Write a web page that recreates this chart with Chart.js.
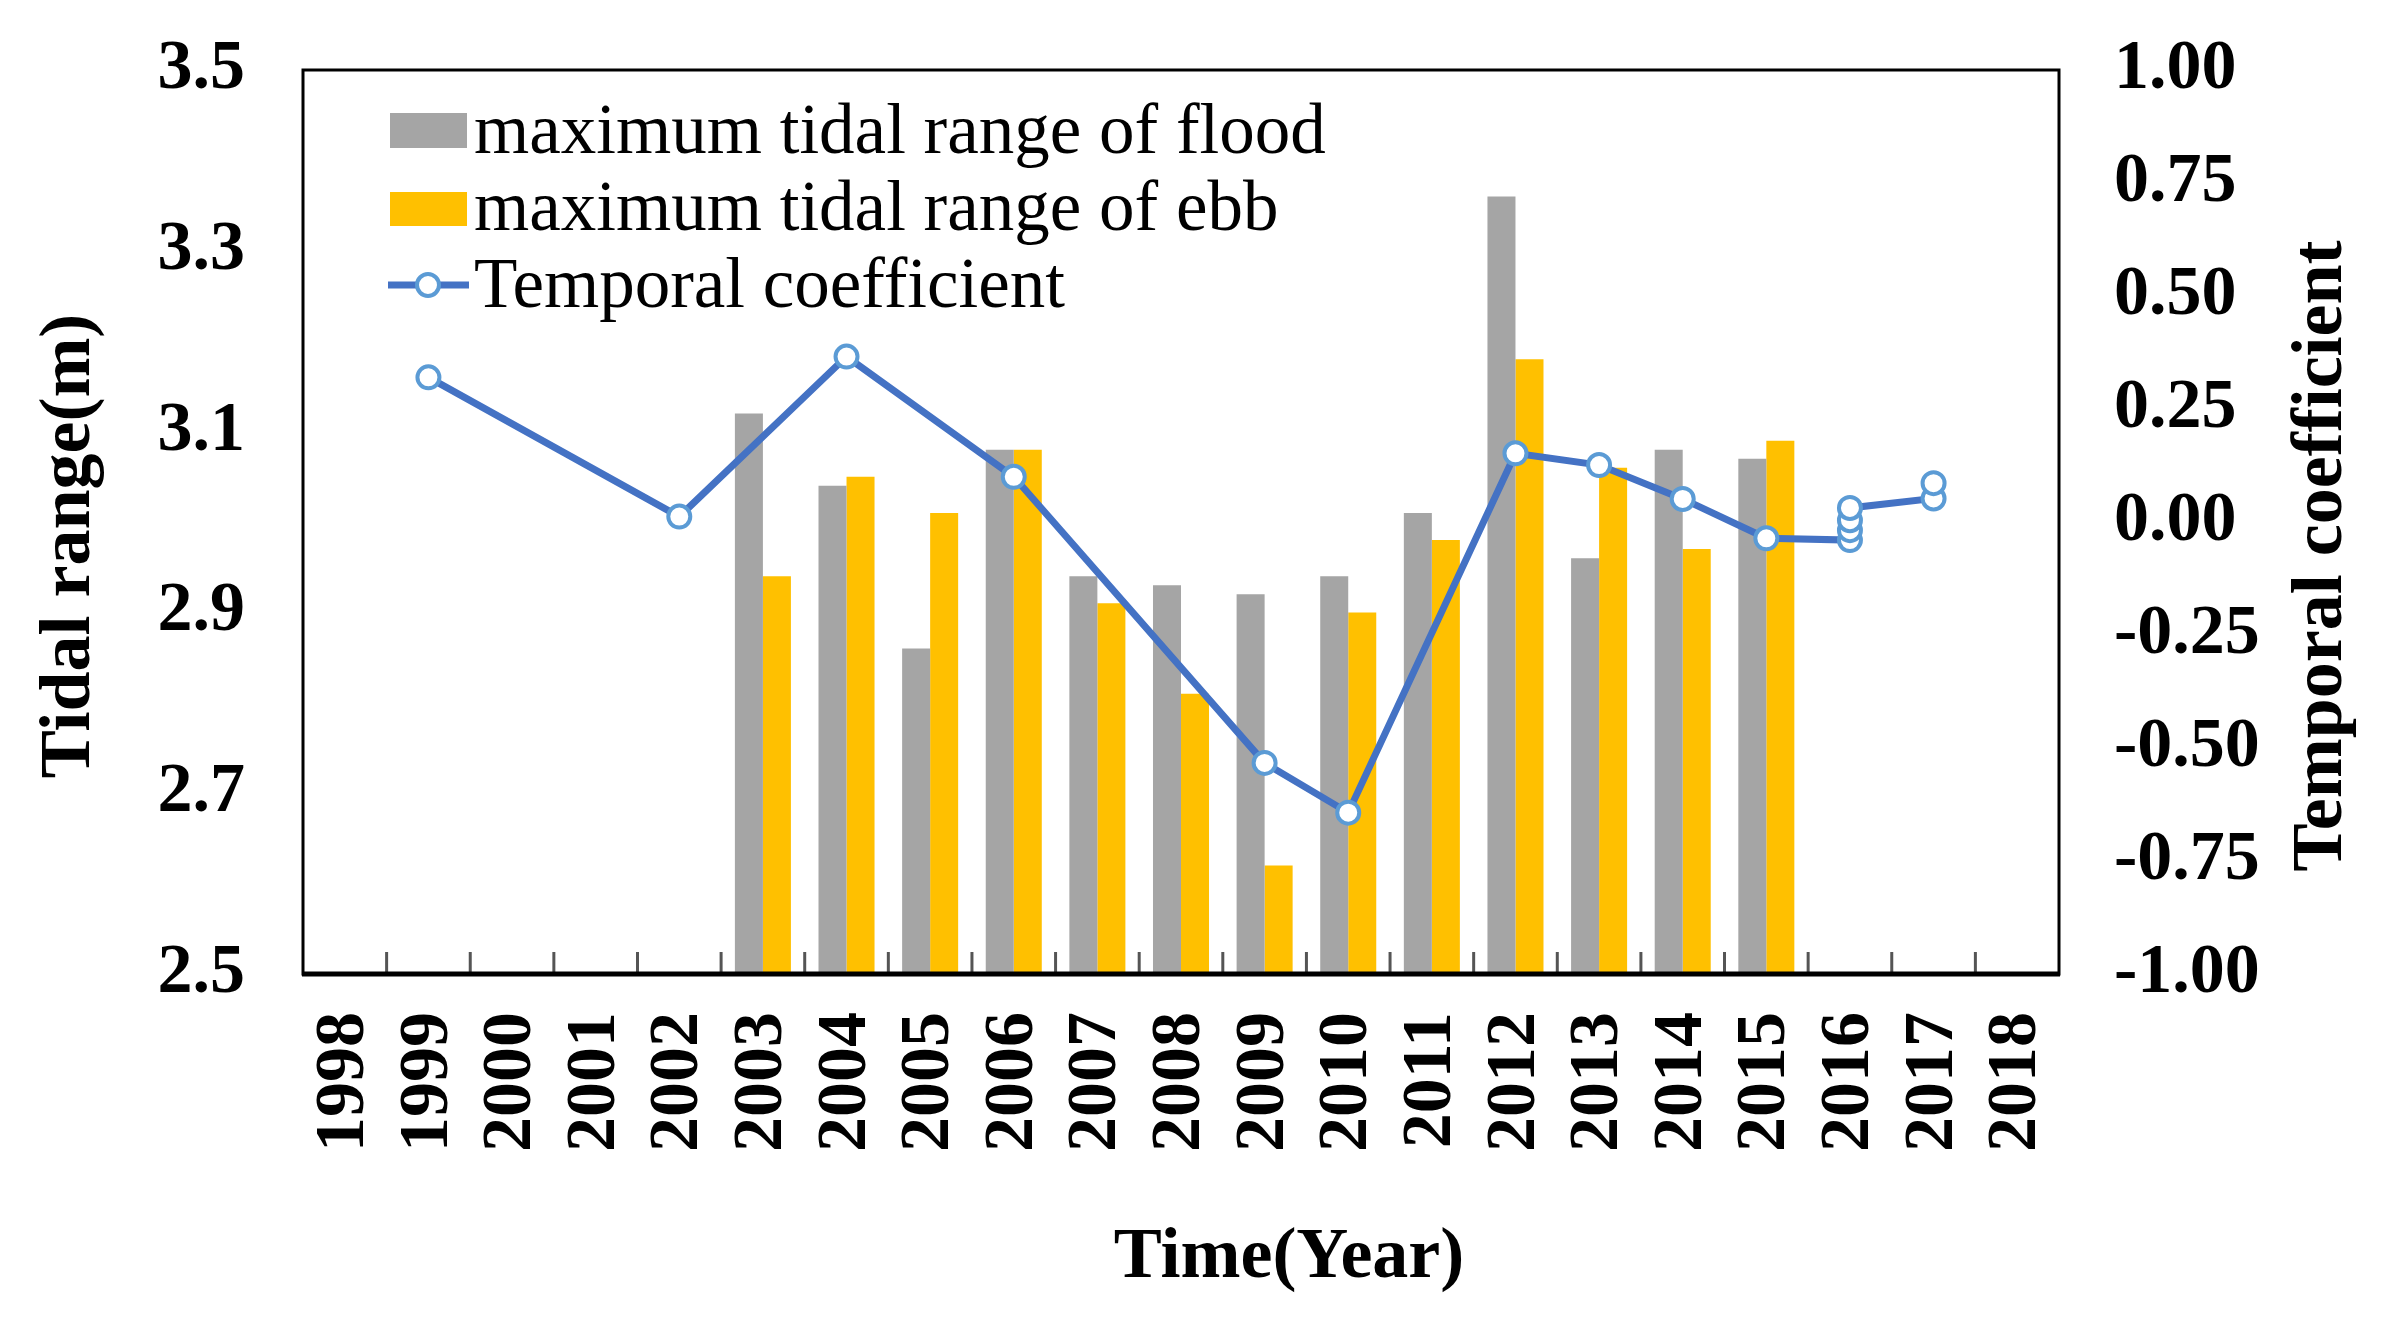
<!DOCTYPE html>
<html>
<head>
<meta charset="utf-8">
<script src="https://cdn.jsdelivr.net/npm/chart.js@4.4.1/dist/chart.umd.min.js"></script>
<style>
  html, body { margin: 0; padding: 0; background: #fff; }
  canvas { display: block; }
</style>
</head>
<body>
<canvas id="tideChart" width="2400" height="1331" style="width:2400px;height:1331px"></canvas>
<script>
// years on the x axis
var years = ['1998', '1999', '2000', '2001', '2002', '2003', '2004', '2005', '2006', '2007',
    '2008', '2009', '2010', '2011', '2012', '2013', '2014', '2015', '2016', '2017', '2018'];

// bars (left axis, m)
var barYears = ['2003', '2004', '2005', '2006', '2007', '2008', '2009', '2010', '2011', '2012', '2013', '2014', '2015'];
var floodRange = [3.12, 3.04, 2.86, 3.08, 2.94, 2.93, 2.92, 2.94, 3.01, 3.36, 2.96, 3.08, 3.07];
var ebbRange = [2.94, 3.05, 3.01, 3.08, 2.91, 2.81, 2.62, 2.90, 2.98, 3.18, 3.06, 2.97, 3.09];

// line (right axis)
var coefYears = ['1999', '2002', '2004', '2006', '2009', '2010', '2012', '2013', '2014', '2015',
    '2016', '2016', '2016', '2016', '2017', '2017'];
var coefValues = [0.32, 0.012, 0.366, 0.10, -0.533, -0.643, 0.152, 0.126, 0.051, -0.036,
    -0.04, -0.018, 0.004, 0.031, 0.052, 0.086];

var leftTicks = [2.5, 2.7, 2.9, 3.1, 3.3, 3.5];
var rightTicks = [-1, -0.75, -0.5, -0.25, 0, 0.25, 0.5, 0.75, 1];

var serif = '"Liberation Serif", "Times New Roman", serif';
var grayColor = '#A5A5A5';
var goldColor = '#FFC000';
var lineColor = '#4472C4';
var markerColor = '#5B9BD5';

function pairs(xs, ys) {
    return xs.map(function (x, i) { return { x: x, y: ys[i] }; });
}

// frame + small inside ticks on the x axis
var framePlugin = {
    id: 'frame',
    afterDatasetsDraw: function (chart) {
        var ctx = chart.ctx;
        var a = chart.chartArea;
        var xs = chart.scales.x;
        ctx.save();
        ctx.strokeStyle = '#555';
        ctx.lineWidth = 3;
        var n = xs.ticks.length;
        for (var i = 1; i < n; i++) {
            var bx = (xs.getPixelForTick(i - 1) + xs.getPixelForTick(i)) / 2;
            ctx.beginPath();
            ctx.moveTo(bx, a.bottom);
            ctx.lineTo(bx, a.bottom - 22);
            ctx.stroke();
        }
        ctx.strokeStyle = '#000';
        ctx.lineWidth = 3;
        ctx.strokeRect(a.left, a.top, a.right - a.left, a.bottom - a.top);
        ctx.lineWidth = 5;
        ctx.beginPath();
        ctx.moveTo(a.left - 1, a.bottom);
        ctx.lineTo(a.right + 1, a.bottom);
        ctx.stroke();
        ctx.restore();
    }
};

// axis titles (both vertical ones read bottom to top)
var titlePlugin = {
    id: 'axisTitles',
    afterDraw: function (chart) {
        var ctx = chart.ctx;
        ctx.save();
        ctx.font = 'bold 72px ' + serif;
        ctx.fillStyle = '#000';
        ctx.textAlign = 'center';
        ctx.textBaseline = 'middle';
        ctx.fillText('Time(Year)', 1289, 1258);

        ctx.translate(70, 546);
        ctx.rotate(-Math.PI / 2);
        ctx.fillText('Tidal range(m)', 0, 0);
        ctx.setTransform(1, 0, 0, 1, 0, 0);

        ctx.translate(2322, 556);
        ctx.rotate(-Math.PI / 2);
        ctx.fillText('Temporal coefficient', 0, 0);
        ctx.restore();
    }
};

// legend drawn inside the plot, top left
var legendPlugin = {
    id: 'innerLegend',
    afterDraw: function (chart) {
        var ctx = chart.ctx;
        var a = chart.chartArea;
        var ds = chart.data.datasets;
        var x0 = a.left + 87;
        var tx = a.left + 171;
        ctx.save();
        ctx.font = '71px ' + serif;
        ctx.fillStyle = '#000';
        ctx.textBaseline = 'alphabetic';

        ctx.fillStyle = ds[1].backgroundColor;
        ctx.fillRect(x0, a.top + 43, 77, 35);
        ctx.fillStyle = '#000';
        ctx.fillText(ds[1].label, tx, a.top + 83);

        ctx.fillStyle = ds[2].backgroundColor;
        ctx.fillRect(x0, a.top + 122, 77, 34);
        ctx.fillStyle = '#000';
        ctx.fillText(ds[2].label, tx, a.top + 160);

        var ly = a.top + 215;
        ctx.strokeStyle = ds[0].borderColor;
        ctx.lineWidth = 7;
        ctx.beginPath();
        ctx.moveTo(x0 - 2, ly);
        ctx.lineTo(x0 + 79, ly);
        ctx.stroke();
        ctx.beginPath();
        ctx.arc(x0 + 38, ly, 11, 0, Math.PI * 2);
        ctx.fillStyle = '#fff';
        ctx.fill();
        ctx.lineWidth = 4;
        ctx.strokeStyle = ds[0].pointBorderColor;
        ctx.stroke();
        ctx.fillStyle = '#000';
        ctx.fillText(ds[0].label, tx, a.top + 237);
        ctx.restore();
    }
};

// invisible tick marks push the labels away from the frame
function hiddenTicks(len) {
    return {
        display: true,
        drawOnChartArea: false,
        drawTicks: true,
        tickLength: len,
        tickColor: 'rgba(0,0,0,0)'
    };
}

var canvas = document.getElementById('tideChart');
var tideChart = new Chart(canvas, {
    type: 'bar',
    data: {
        labels: years,
        datasets: [{
            type: 'line',
            label: 'Temporal coefficient',
            data: pairs(coefYears, coefValues),
            yAxisID: 'y1',
            order: 0,
            borderColor: lineColor,
            borderWidth: 7,
            pointRadius: 11,
            pointBorderWidth: 4,
            pointBorderColor: markerColor,
            pointBackgroundColor: '#fff',
            tension: 0,
            fill: false
        }, {
            label: 'maximum tidal range of flood',
            data: pairs(barYears, floodRange),
            yAxisID: 'y',
            order: 1,
            backgroundColor: grayColor,
            categoryPercentage: 0.67,
            barPercentage: 1.0
        }, {
            label: 'maximum tidal range of ebb',
            data: pairs(barYears, ebbRange),
            yAxisID: 'y',
            order: 1,
            backgroundColor: goldColor,
            categoryPercentage: 0.67,
            barPercentage: 1.0
        }]
    },
    options: {
        responsive: false,
        animation: false,
        devicePixelRatio: 1,
        layout: { padding: { top: 70, left: 0, right: 0, bottom: 0 } },
        plugins: {
            legend: { display: false },
            tooltip: { enabled: false }
        },
        scales: {
            x: {
                type: 'category',
                offset: true,
                grid: { display: false },
                border: { display: false },
                ticks: {
                    autoSkip: false,
                    minRotation: 90,
                    maxRotation: 90,
                    padding: 30,
                    color: '#000',
                    font: { family: serif, size: 70, weight: 'bold' }
                },
                title: { display: false },
                afterFit: function (s) { s.height = 357; }
            },
            y: {
                position: 'left',
                min: 2.5,
                max: 3.5,
                grid: hiddenTicks(58),
                border: { display: false },
                afterBuildTicks: function (s) {
                    s.ticks = leftTicks.map(function (v) { return { value: v }; });
                },
                ticks: {
                    padding: 0,
                    color: '#000',
                    font: { family: serif, size: 70, weight: 'bold' },
                    callback: function (v) { return Number(v).toFixed(1); }
                },
                title: { display: false },
                afterFit: function (s) { s.width = 303; }
            },
            y1: {
                position: 'right',
                min: -1,
                max: 1,
                grid: hiddenTicks(55),
                border: { display: false },
                afterBuildTicks: function (s) {
                    s.ticks = rightTicks.map(function (v) { return { value: v }; });
                },
                ticks: {
                    padding: 0,
                    color: '#000',
                    font: { family: serif, size: 70, weight: 'bold' },
                    callback: function (v) { return Number(v).toFixed(2); }
                },
                title: { display: false },
                afterFit: function (s) { s.width = 341; }
            }
        }
    },
    plugins: [framePlugin, legendPlugin, titlePlugin]
});
</script>
</body>
</html>
